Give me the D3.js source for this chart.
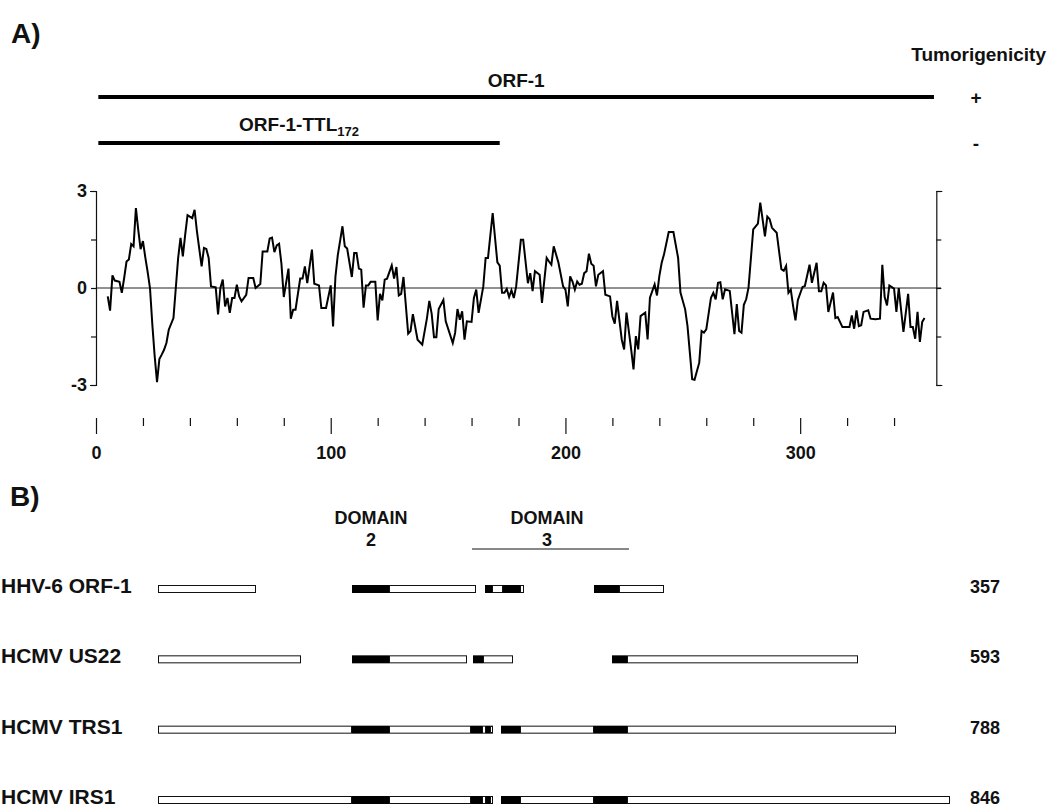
<!DOCTYPE html>
<html>
<head>
<meta charset="utf-8">
<script src="https://cdn.jsdelivr.net/npm/d3@7"></script>
<style>
  body { margin: 0; background: #fff; }
  text { font-family: "Liberation Sans", Arial, sans-serif; font-weight: bold; fill: #111; }
</style>
</head>
<body>
<svg id="fig" width="1049" height="809"></svg>
<script>
// Hydropathy profile of ORF-1 (residue position, hydropathy value)
const residues = [5,6,7,8,10,11,12,13,14,15,16,17,18,19,20,21,22,23,24,25,26,27,28,29,30,31,33,34,35,36,37,38,39,41,42,43,45,46,47,48,49,51,52,53,54,55,56,57,58,59,60,61,62,64,65,67,68,70,71,73,74,75,76,77,78,79,80,82,83,84,85,87,88,89,90,92,93,95,96,98,100,101,102,103,105,106,107,109,110,111,112,113,114,115,116,117,119,120,121,122,123,124,126,127,128,129,130,131,133,134,135,137,139,141,142,143,144,145,146,148,149,152,153,154,155,156,157,158,160,161,162,163,165,166,167,169,171,172,173,174,175,176,177,178,179,181,182,184,185,186,187,189,190,192,193,194,195,197,199,200,201,202,203,204,205,206,207,208,209,210,211,212,213,214,216,217,219,220,221,222,224,225,226,228,229,230,231,232,234,235,236,238,239,240,241,242,244,246,248,249,251,252,254,255,257,258,259,260,262,263,264,265,266,267,268,270,272,273,274,275,276,277,278,280,282,283,285,286,287,288,290,292,293,294,295,296,297,298,299,301,302,304,305,307,308,309,310,311,312,314,315,316,318,321,322,323,324,325,326,327,329,330,332,334,335,336,337,338,340,341,342,344,346,347,348,349,350,351,352,353];
const hydropathy = [-0.26,-0.70,0.39,0.23,0.19,-0.15,0.31,0.82,0.88,1.36,1.29,2.47,1.80,1.20,1.45,0.95,0.50,0.00,-1.13,-2.11,-2.91,-2.20,-2.06,-1.91,-1.70,-1.29,-0.93,0.00,0.93,1.55,0.98,1.65,2.25,2.16,2.42,1.75,0.67,1.24,1.21,0.93,0.05,0.02,-0.82,0.00,0.26,-0.57,-0.31,-0.77,-0.31,-0.31,0.10,-0.26,-0.41,-0.21,0.31,0.31,0.00,0.12,1.13,1.13,1.53,1.56,1.11,1.32,1.37,0.75,-0.28,0.60,-0.95,-0.67,-0.67,0.29,0.29,0.67,0.15,1.19,0.13,0.08,-0.62,-0.62,0.08,-1.19,0.34,1.01,1.91,1.29,1.22,0.34,1.08,1.08,0.60,0.57,-0.61,0.08,0.08,0.19,0.19,-1.00,-0.18,-0.38,0.26,0.29,0.70,0.29,0.65,-0.23,-0.18,0.34,-1.41,-1.33,-0.81,-1.60,-1.75,-0.93,-0.40,-0.79,-1.52,-1.52,-0.65,-0.37,-1.03,-1.70,-1.39,-0.65,-0.98,-0.72,-1.60,-1.03,-1.05,-0.31,-0.05,-0.77,0.05,0.93,0.93,2.32,0.79,0.69,-0.15,-0.15,-0.03,-0.28,-0.07,-0.31,0.05,1.49,1.49,0.15,0.46,-0.10,0.52,0.41,-0.46,0.93,0.82,0.72,1.29,0.79,0.05,-0.05,-0.57,0.36,0.20,-0.05,0.20,0.10,0.13,0.46,0.52,1.06,0.75,0.69,0.05,0.41,0.52,-0.21,-0.26,-0.88,-1.10,-0.40,-1.60,-1.90,-0.76,-1.90,-2.52,-1.49,-1.90,-0.87,-0.76,-1.59,-0.30,0.11,-0.23,0.37,0.78,1.04,1.73,1.73,0.93,-0.14,-0.66,-1.18,-2.82,-2.84,-2.31,-1.33,-1.38,-1.28,-0.30,-0.15,-0.35,0.16,0.18,-0.35,-0.04,-0.09,-1.43,-0.50,-1.33,-1.38,-0.52,-0.35,0.01,1.81,1.99,2.64,1.60,2.21,2.13,1.86,1.71,0.58,0.53,0.68,-0.15,-0.05,-0.56,-1.00,-0.38,0.03,0.06,0.72,0.16,0.78,-0.10,-0.10,0.16,0.08,-0.74,-0.14,-0.93,-0.90,-1.21,-1.21,-0.85,-1.26,-0.69,-1.18,-1.15,-0.74,-0.69,-0.95,-0.97,-0.95,0.72,-0.28,-0.54,0.08,-0.02,-0.74,0.00,-1.36,-0.18,-1.21,-1.21,-1.57,-0.74,-1.67,-1.05,-0.93];

// Axis ticks
const xTicks = [0,20,40,60,80,100,120,140,160,180,200,220,240,260,280,300,320,340];
const xTickLabels = [0, 100, 200, 300];
const yTicks = [-3, -1.5, 0, 1.5, 3];
const yTickLabels = [3, 0, -3];

// Expressed constructs and their tumorigenicity
const constructNames = ["ORF-1", "ORF-1-TTL"];
const constructSubscripts = ["", "172"];
const constructStarts = [1, 1];
const constructEnds = [357, 172];
const tumorigenicity = ["+", "-"];

// Panel B: aligned homologues (schematic alignment positions)
const proteinNames = ["HHV-6 ORF-1", "HCMV US22", "HCMV TRS1", "HCMV IRS1"];
const proteinLengths = [357, 593, 788, 846];
// segments: [start, end, "b" = conserved (black) | "w" = other (open)]
const proteinSegments = [
  [[0,98,"w"],[194,231,"b"],[231,318,"w"],[327,334,"b"],[334,345,"w"],[345,362,"b"],[362,366,"w"],[436,461,"b"],[461,506,"w"]],
  [[0,143,"w"],[194,231,"b"],[231,309,"w"],[315,325,"b"],[325,355,"w"],[454,469,"b"],[469,700,"w"]],
  [[0,194,"w"],[194,231,"b"],[231,313,"w"],[313,324,"b"],[324,328,"w"],[328,332,"b"],[332,335,"w"],[343,362,"b"],[362,436,"w"],[436,469,"b"],[469,738,"w"]],
  [[0,194,"w"],[194,231,"b"],[231,313,"w"],[313,324,"b"],[324,328,"w"],[328,332,"b"],[332,335,"w"],[343,362,"b"],[362,436,"w"],[436,469,"b"],[469,792,"w"]]
];
const domainLabels = [["DOMAIN", "2"], ["DOMAIN", "3"]];
const domainCenters = [213, 389];
const domain3Span = [314, 471];

const svg = d3.select("#fig");

// ---------- Panel A ----------
const x = d3.scaleLinear().domain([0, 360]).range([96, 941]);
const y = d3.scaleLinear().domain([-3, 3]).range([385, 191]);

svg.append("text").attr("x", 11).attr("y", 43).style("font-size", "28px").text("A)");
svg.append("text").attr("x", 1046).attr("y", 61).attr("text-anchor", "end")
  .style("font-size", "19px").text("Tumorigenicity");

const barY = [97, 143];
const labelY = [87, 131];
constructNames.forEach((name, i) => {
  svg.append("line")
    .attr("x1", x(constructStarts[i])).attr("x2", x(constructEnds[i]))
    .attr("y1", barY[i]).attr("y2", barY[i])
    .attr("stroke", "#000").attr("stroke-width", 4);
  const mid = (x(constructStarts[i]) + x(constructEnds[i])) / 2;
  const t = svg.append("text").attr("x", mid).attr("y", labelY[i])
    .attr("text-anchor", "middle").style("font-size", "19px").text(name);
  if (constructSubscripts[i]) {
    t.append("tspan").attr("dy", 5).style("font-size", "13px").text(constructSubscripts[i]);
  }
  svg.append("text").attr("x", 976).attr("y", barY[i] + 7)
    .attr("text-anchor", "middle").style("font-size", "19px").text(tumorigenicity[i]);
});

// zero line
svg.append("line")
  .attr("x1", x(0)).attr("x2", x(360)).attr("y1", y(0)).attr("y2", y(0))
  .attr("stroke", "#222").attr("stroke-width", 1);

// left and right y axes (bracket style)
const yAxisL = d3.axisLeft(y).tickValues(yTicks).tickSize(5).tickSizeOuter(6)
  .tickFormat(d => yTickLabels.includes(d) ? String(d) : "");
const gL = svg.append("g").attr("transform", `translate(${x(0)},0)`).call(yAxisL);
gL.selectAll("text").style("font-size", "18px").attr("x", -9);

const yAxisR = d3.axisRight(y).tickValues(yTicks).tickSize(5).tickSizeOuter(6).tickFormat("");
svg.append("g").attr("transform", `translate(${x(358)},0)`).call(yAxisR);

svg.selectAll(".domain, .tick line").attr("stroke", "#111").attr("stroke-width", 1.2);

// hydropathy trace
const pts = residues.map((r, i) => [r, hydropathy[i]]);
svg.append("path")
  .datum(pts)
  .attr("fill", "none").attr("stroke", "#000").attr("stroke-width", 2)
  .attr("stroke-linejoin", "miter")
  .attr("d", d3.line().x(d => x(d[0])).y(d => y(d[1])));

// residue axis
const xAxis = d3.axisBottom(x).tickValues(xTicks).tickSize(8).tickPadding(20)
  .tickFormat(d => xTickLabels.includes(d) ? d : "");
const gX = svg.append("g").attr("transform", "translate(0,418)").call(xAxis);
gX.select(".domain").remove();
gX.selectAll(".tick line").attr("stroke", "#111").attr("stroke-width", 1.2)
  .attr("y2", d => d % 100 === 0 ? 16 : 8);
gX.selectAll("text").style("font-size", "18px");

// ---------- Panel B ----------
const xb = d3.scaleLinear().domain([0, 800]).range([158, 958]);
svg.append("text").attr("x", 10).attr("y", 506).style("font-size", "28px").text("B)");

domainLabels.forEach((lab, i) => {
  svg.append("text").attr("x", xb(domainCenters[i])).attr("y", 524)
    .attr("text-anchor", "middle").style("font-size", "18px").text(lab[0]);
  svg.append("text").attr("x", xb(domainCenters[i])).attr("y", 546)
    .attr("text-anchor", "middle").style("font-size", "18px").text(lab[1]);
});
svg.append("line").attr("x1", xb(domain3Span[0])).attr("x2", xb(domain3Span[1]))
  .attr("y1", 549).attr("y2", 549).attr("stroke", "#111").attr("stroke-width", 1);

const rowY = d3.scalePoint().domain(proteinNames).range([589, 800]);
const boxH = 8;
proteinNames.forEach((name, i) => {
  const cy = rowY(name);
  svg.append("text").attr("x", 1).attr("y", cy + 4).style("font-size", "21px").text(name);
  svg.append("text").attr("x", 985).attr("y", cy + 4).attr("text-anchor", "middle")
    .style("font-size", "18px").text(proteinLengths[i]);
  const g = svg.append("g");
  g.selectAll("rect").data(proteinSegments[i]).join("rect")
    .attr("x", d => xb(d[0]) + (d[2] === "w" ? 0.5 : 0))
    .attr("y", d => d[2] === "w" ? cy - boxH / 2 + 0.5 : cy - boxH / 2)
    .attr("width", d => xb(d[1]) - xb(d[0]) - (d[2] === "w" ? 1 : 0))
    .attr("height", d => d[2] === "w" ? boxH - 1 : boxH)
    .attr("fill", d => d[2] === "b" ? "#000" : "#fff")
    .attr("stroke", d => d[2] === "b" ? "none" : "#111")
    .attr("stroke-width", 1);
});
</script>
</body>
</html>
